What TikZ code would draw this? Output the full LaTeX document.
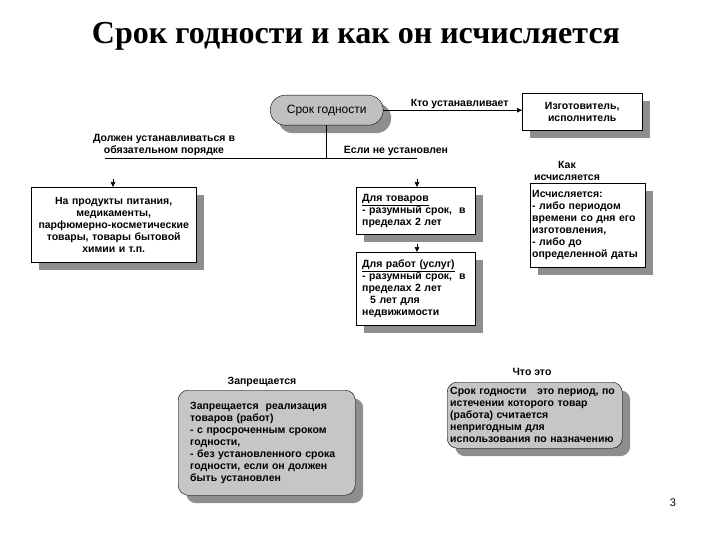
\documentclass[tikz,border=0pt]{standalone}
\usepackage{fontspec}
\setmainfont{Liberation Serif}
\newfontfamily\boxfont{Liberation Sans}
\usetikzlibrary{arrows.meta, positioning, shadows}
\definecolor{shadowgray}{HTML}{8E8E8E}
\definecolor{pillfill}{HTML}{C0C0C0}
\definecolor{notefill}{HTML}{C6C6C6}

\begin{document}
\begin{tikzpicture}[x=1pt, y=-1pt,
    shadowed/.style={general shadow={fill=shadowgray, shadow xshift=8pt, shadow yshift=-8pt}},
    box/.style={draw=black, fill=white, shadowed, anchor=north west, inner sep=0pt, font=\boxfont\bfseries\fontsize{10.5}{12}\selectfont},
    note/.style={box, fill=notefill, rounded corners=10pt},
    lbl/.style={inner sep=1pt, align=center, font=\boxfont\bfseries\fontsize{10.5}{12}\selectfont},
    arr/.style={-{Triangle[length=5pt, width=4.5pt]}, black, line width=0.6pt}
]
    \useasboundingbox (0,0) rectangle (720,540);
    \node[font=\bfseries\fontsize{32}{36}\selectfont] (title) at (356,36) {Срок годности и как он исчисляется};

    % top row
    \node[box, fill=pillfill, rounded corners=15pt, minimum width=113, minimum height=30,
          font=\boxfont\fontsize{12}{14}\selectfont] (srok) at (270,95) {Срок годности};
    \node[box, minimum width=120, minimum height=37, align=center] (maker) at (522,93) {Изготовитель,\\исполнитель};
    \draw[arr] (srok.east) -- node[lbl, above, pos=0.55] {Кто устанавливает} (srok.east -| maker.west);

    % branches
    \coordinate (split) at (srok.south |- 0,158);
    \coordinate (lineL) at (105,158);
    \coordinate (lineR) at (417,158);
    \draw[line width=0.6pt] (srok.south) -- (split);
    \draw[line width=0.6pt] (lineL) -- (lineR);
    \node[lbl, above=1pt] (must) at (164,158) {Должен устанавливаться в\\обязательном порядке};
    \node[lbl, above=1pt] (notset) at (396,158) {Если не установлен};

    \node[box, minimum width=165, minimum height=75, text width=160, align=center] (food) at (31,187)
        {На продукты питания,\\медикаменты,\\парфюмерно-косметические\\товары, товары бытовой\\химии и т.п.};
    \node[box, inner xsep=6pt, minimum width=119, minimum height=47, text width=107, align=left] (goods) at (356,187)
        {\underline{Для товаров}\\- разумный срок,\ \ в\\пределах 2 лет};
    \node[box, inner xsep=6pt, minimum width=119, minimum height=73, text width=107, align=left] (works) at (356,252)
        {\underline{Для работ (услуг)}\\- разумный срок,\ \ в\\пределах 2 лет\\\hspace*{8pt}5 лет для\\недвижимости};
    \coordinate (tipL) at (113,179);
    \coordinate (tipG) at (417,179);
    \coordinate (tipW) at (417,244);
    \draw[arr] (tipL) -- (tipL |- food.north);
    \draw[arr] (tipG) -- (tipG |- goods.north);
    \draw[arr] (tipW) -- (tipW |- works.north);

    % how it is counted
    \node[box, inner xsep=2pt, minimum width=115, minimum height=84, text width=111, align=left] (count) at (530,183)
        {Исчисляется:\\- либо периодом\\времени со дня его\\изготовления,\\- либо до\\определенной даты};
    \node[lbl, anchor=south] (howlbl) at (567,182) {Как\\исчисляется};

    % bottom notes
    \node[note, inner xsep=12pt, minimum width=177, minimum height=105, text width=153, align=left] (ban) at (178,390)
        {Запрещается\ \ реализация\\товаров (работ)\\- с просроченным сроком\\годности,\\- без установленного срока\\годности, если он должен\\быть установлен};
    \node[lbl, anchor=south] (banlbl) at (262,388) {Запрещается};
    \node[note, inner xsep=3pt, minimum width=175, minimum height=66, text width=169, align=left] (def) at (447,382)
        {Срок годности\ \ \ это период, по\\истечении которого товар\\(работа) считается\\непригодным для\\использования по назначению};
    \node[lbl, anchor=south] (deflbl) at (532,377) {Что это};

    \node[font=\boxfont\fontsize{11}{13}\selectfont] (page) at (673,503) {3};
\end{tikzpicture}
\end{document}
